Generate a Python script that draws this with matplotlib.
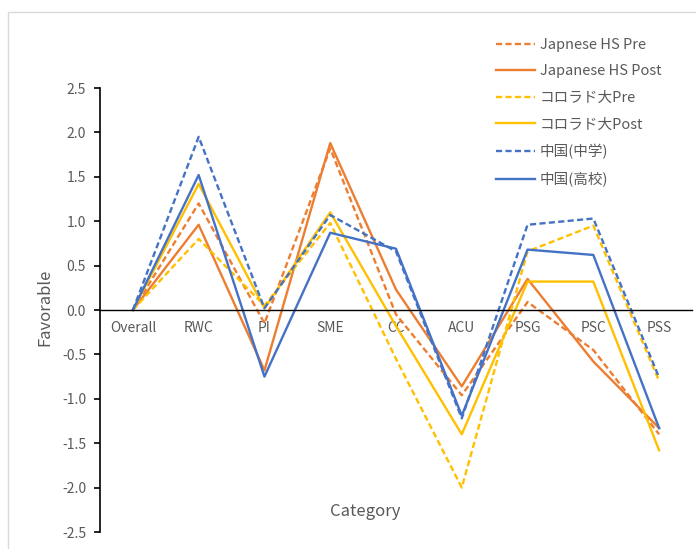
import matplotlib
matplotlib.use("Agg")
import matplotlib.pyplot as plt
from matplotlib.patches import Rectangle
import numpy as np

plt.rcParams['font.family'] = ['Noto Sans CJK JP', 'DejaVu Sans']

categories = ["Overall", "RWC", "PI", "SME", "CC", "ACU", "PSG", "PSC", "PSS"]

jp_pre = [0.0, 1.20, -0.15, 1.82, -0.05, -0.96, 0.09, -0.45, -1.40]
jp_post = [0.0, 0.96, -0.68, 1.88, 0.23, -0.86, 0.35, -0.58, -1.33]
co_pre = [0.0, 0.80, 0.05, 0.98, -0.55, -2.00, 0.66, 0.95, -0.80]
co_post = [0.0, 1.42, 0.02, 1.10, -0.18, -1.40, 0.32, 0.32, -1.58]
cn_mid = [0.0, 1.95, 0.02, 1.07, 0.66, -1.22, 0.96, 1.03, -0.76]
cn_high = [0.0, 1.52, -0.75, 0.87, 0.69, -1.19, 0.68, 0.62, -1.33]

labels = ["Japnese HS Pre", "Japanese HS Post", "コロラド大Pre",
          "コロラド大Post", "中国(中学)", "中国(高校)"]

orange = "#ED7D31"
yellow = "#FFC000"
blue = "#4472C4"
grey = "#595959"

fig = plt.figure(figsize=(6.96, 5.49), dpi=100)
ax = fig.add_axes([100 / 696, 1 - 532 / 549, 592 / 696, 444 / 549])

x = np.arange(len(categories))
series = [(jp_pre, orange, True), (jp_post, orange, False),
          (co_pre, yellow, True), (co_post, yellow, False),
          (cn_mid, blue, True), (cn_high, blue, False)]
for (vals, col, dashed), lab in zip(series, labels):
    if dashed:
        ax.plot(x, vals, color=col, lw=1.7, dashes=(2.6, 1.4), label=lab)
    else:
        ax.plot(x, vals, color=col, lw=1.7, label=lab)

ax.set_xlim(-0.5, len(categories) - 0.5)
ax.set_ylim(-2.5, 2.5)
ax.set_yticks(np.arange(-2.5, 2.51, 0.5))
ax.set_yticklabels([f"{v:.1f}" for v in np.arange(-2.5, 2.51, 0.5)])
ax.set_xticks(x)
ax.set_xticklabels(categories)

for s in ["top", "right"]:
    ax.spines[s].set_visible(False)
ax.spines["bottom"].set_position(("data", 0))
ax.spines["bottom"].set_color("#000000")
ax.spines["bottom"].set_linewidth(1.0)
ax.spines["left"].set_color("#000000")
ax.spines["left"].set_linewidth(1.2)
ax.tick_params(axis="y", direction="out", length=4, width=1.2,
               labelsize=10, labelcolor=grey, pad=6)
ax.tick_params(axis="x", length=0, labelsize=10, labelcolor=grey, pad=8)

fig.text(45 / 696, 1 - 307 / 549, "Favorable", rotation=90, ha="center",
         va="center", fontsize=12, color=grey)
fig.text(365 / 696, 1 - 512 / 549, "Category", ha="center", va="center",
         fontsize=12, color=grey)

leg = fig.legend(loc="upper left", bbox_to_anchor=(490 / 696, 1 - 32 / 549),
                 frameon=False, fontsize=10.5, handlelength=2.7,
                 handletextpad=0.3, labelspacing=0.86, borderaxespad=0)
for t in leg.get_texts():
    t.set_color(grey)

fig.patches.append(Rectangle((8 / 696, -0.1), 1.2, 1.1 - 12 / 549,
                             transform=fig.transFigure, fill=False,
                             edgecolor="#D9D9D9", lw=1.0))

fig.savefig("out.png", dpi=100)
